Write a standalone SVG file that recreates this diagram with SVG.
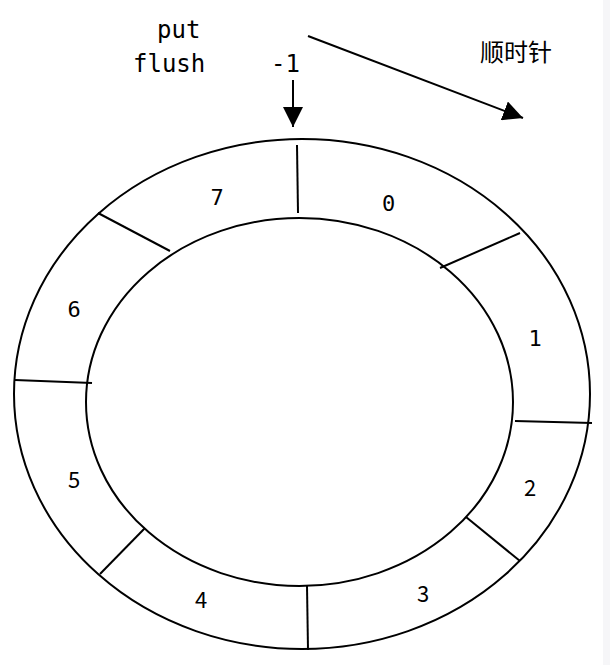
<svg xmlns="http://www.w3.org/2000/svg" width="610" height="665" viewBox="0 0 610 665">
<defs>
<marker id="ah" viewBox="0 0 20 20" refX="20" refY="10" markerWidth="20" markerHeight="20" markerUnits="userSpaceOnUse" orient="auto">
<path d="M0,0 L20,10 L0,20 Z" fill="#000"/>
</marker>
<style>
.ln{stroke:#000;stroke-width:2;fill:none}
.mono{font-family:"DejaVu Sans Mono","Liberation Mono",monospace;fill:#000}
.sans{font-family:"Noto Sans CJK SC","Noto Sans",sans-serif;fill:#000}
.lbl{font-size:22px;text-anchor:middle}
</style>
</defs>
<rect x="0" y="0" width="610" height="665" fill="#fff"/>
<rect x="603" y="0" width="7" height="665" fill="#f6f6f8"/>
<g id="ring">
<ellipse class="ln" cx="302" cy="394" rx="288" ry="255"/>
<ellipse class="ln" cx="299.5" cy="402" rx="213.5" ry="184"/>
<line class="ln" x1="297" y1="145" x2="298" y2="213"/>
<line class="ln" x1="520" y1="233" x2="440" y2="268"/>
<line class="ln" x1="515" y1="421" x2="592" y2="423"/>
<line class="ln" x1="466" y1="517" x2="520" y2="561"/>
<line class="ln" x1="307" y1="586" x2="308" y2="650"/>
<line class="ln" x1="145" y1="528" x2="100" y2="574"/>
<line class="ln" x1="15" y1="380" x2="92" y2="383"/>
<line class="ln" x1="98" y1="213" x2="170" y2="251"/>
</g>
<g id="slot0"><text class="mono lbl" x="388.5" y="211">0</text></g>
<g id="slot1"><text class="mono lbl" x="535" y="346">1</text></g>
<g id="slot2"><text class="sans lbl" x="530" y="496">2</text></g>
<g id="slot3"><text class="sans lbl" x="423" y="602">3</text></g>
<g id="slot4"><text class="sans lbl" x="201" y="608">4</text></g>
<g id="slot5"><text class="sans lbl" x="74" y="488">5</text></g>
<g id="slot6"><text class="mono lbl" x="74" y="317">6</text></g>
<g id="slot7"><text class="mono lbl" x="217" y="205">7</text></g>
<g id="labels">
<text class="mono" x="157" y="38" font-size="24">put</text>
<text class="mono" x="133" y="72" font-size="24">flush</text>
<text class="mono" x="271" y="72" font-size="24">-1</text>
<text class="sans" x="480" y="61" font-size="24">顺时针</text>
</g>
<g id="connectors">
<line class="ln" x1="293" y1="80" x2="293" y2="127" marker-end="url(#ah)"/>
<line class="ln" x1="308" y1="36" x2="523" y2="118" marker-end="url(#ah)"/>
</g>
</svg>
